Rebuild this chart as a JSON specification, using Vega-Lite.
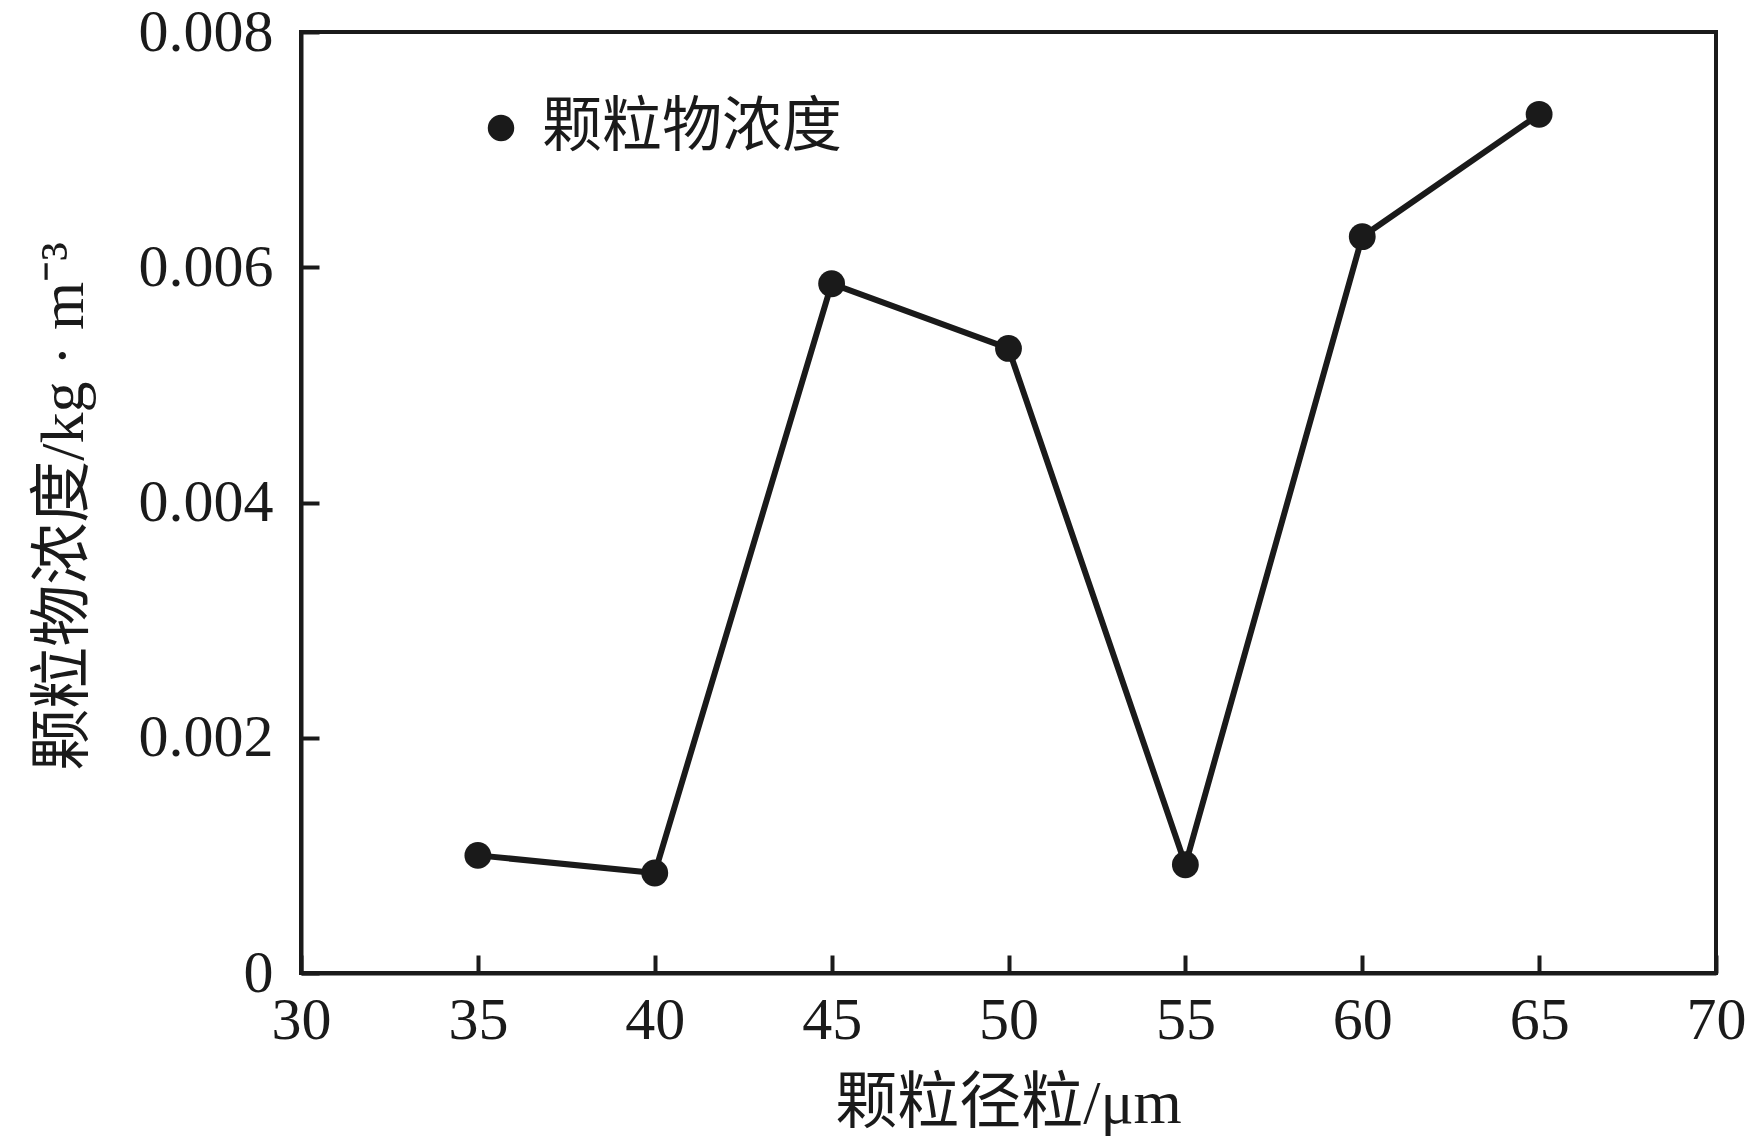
{
  "$schema": "https://vega.github.io/schema/vega-lite/v6.json",
  "width": 1415,
  "height": 941,
  "autosize": {"type": "none"},
  "padding": {"left": 301, "top": 32, "right": 31, "bottom": 175},
  "background": "white",
  "config": {
    "view": {"stroke": "#1a1a1a", "strokeWidth": 4},
    "font": "Liberation Serif, Noto Sans CJK SC",
    "axis": {
      "domainColor": "#1a1a1a",
      "domainWidth": 4,
      "tickColor": "#1a1a1a",
      "tickWidth": 4,
      "tickSize": -18,
      "grid": false,
      "labelFont": "Liberation Serif",
      "labelFontSize": 60,
      "labelColor": "#1a1a1a",
      "titleFont": "Liberation Serif, Noto Sans CJK SC",
      "titleFontSize": 62,
      "titleFontWeight": "normal",
      "titleColor": "#1a1a1a"
    },
    "legend": {
      "padding": 0,
      "labelFont": "Liberation Serif, Noto Sans CJK SC",
      "labelFontSize": 60,
      "labelColor": "#1a1a1a",
      "labelOffset": 11,
      "labelLimit": 0,
      "symbolSize": 700,
      "symbolStrokeWidth": 0
    }
  },
  "data": {
    "values": [
      {"d": 35, "c": 0.00100, "s": "颗粒物浓度"},
      {"d": 40, "c": 0.00085, "s": "颗粒物浓度"},
      {"d": 45, "c": 0.00586, "s": "颗粒物浓度"},
      {"d": 50, "c": 0.00531, "s": "颗粒物浓度"},
      {"d": 55, "c": 0.00092, "s": "颗粒物浓度"},
      {"d": 60, "c": 0.00626, "s": "颗粒物浓度"},
      {"d": 65, "c": 0.00730, "s": "颗粒物浓度"}
    ]
  },
  "encoding": {
    "x": {
      "field": "d",
      "type": "quantitative",
      "scale": {"domain": [30, 70], "nice": false, "zero": false},
      "axis": {
        "values": [30, 35, 40, 45, 50, 55, 60, 65, 70],
        "labelPadding": 36,
        "labelFlush": false,
        "title": "颗粒径粒/μm",
        "titleBaseline": "middle",
        "titleY": 130,
        "titleX": 707
      }
    },
    "y": {
      "field": "c",
      "type": "quantitative",
      "scale": {"domain": [0, 0.008], "nice": false},
      "axis": {
        "values": [0, 0.002, 0.004, 0.006, 0.008],
        "format": ".3~f",
        "labelPadding": 46,
        "labelFlush": false,
        "title": "颗粒物浓度/kg · m⁻³",
        "titleAngle": -90,
        "titleBaseline": "middle",
        "titleAlign": "center",
        "titleX": -238,
        "titleY": 474
      }
    }
  },
  "layer": [
    {
      "mark": {"type": "line", "stroke": "#1a1a1a", "strokeWidth": 6}
    },
    {
      "mark": {"type": "point", "shape": "circle", "filled": true, "size": 720, "opacity": 1},
      "encoding": {
        "color": {
          "field": "s",
          "type": "nominal",
          "scale": {"range": ["#1a1a1a"]},
          "legend": {
            "title": null,
            "orient": "none",
            "legendX": 170,
            "legendY": 66,
            "symbolType": "circle",
            "symbolFillColor": "#1a1a1a"
          }
        }
      }
    }
  ]
}
